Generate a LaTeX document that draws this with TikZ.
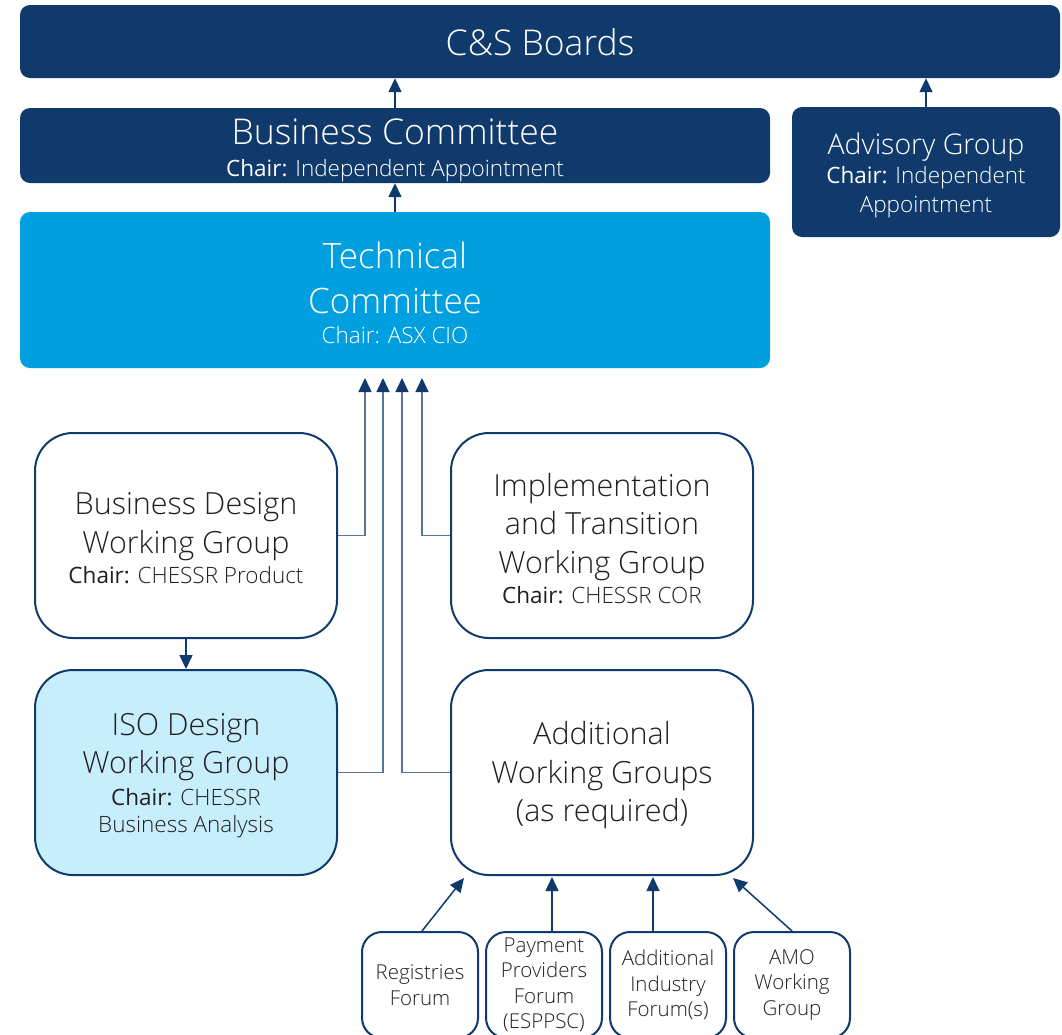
\documentclass[tikz,border=0pt]{standalone}
\usepackage{fontspec}
\setmainfont{Open Sans Light}[BoldFont=Open Sans]
\usetikzlibrary{arrows.meta,calc}
\definecolor{navy}{HTML}{0F3A6B}
\definecolor{skyblue}{HTML}{00A0E0}
\definecolor{paleblue}{HTML}{C6EEFD}
\definecolor{ink}{HTML}{231F20}
\newcommand\chairof{\textbf{Chair:}}
\newcommand\chairsize{\fontsize{22.5}{27}\selectfont}
\tikzset{
  darkbox/.style={fill=navy,text=white,rounded corners=10pt,inner sep=0pt,align=center},
  wgbox/.style={draw=navy,line width=2pt,fill=white,rounded corners=38pt,
    minimum width=302pt,minimum height=205pt,inner sep=0pt},
  wgtext/.style={text=ink,inner sep=0pt,align=center,yshift=-3pt,
    font=\fontsize{30.5}{38.5}\selectfont},
  forumbox/.style={draw=navy,line width=2pt,fill=white,text=ink,rounded corners=20pt,
    minimum width=116pt,minimum height=106pt,inner sep=0pt,align=center,
    font=\fontsize{20.5}{25.5}\selectfont},
  link/.style={draw=navy,line width=1.5pt,-{Triangle[length=14pt,width=13pt]}},
  feed/.style={draw=navy!70,line width=1.5pt,-{Triangle[length=14pt,width=13pt,color=navy]}},
}
\begin{document}
\begin{tikzpicture}[x=1pt,y=-1pt]
    \useasboundingbox (0,0) rectangle (1062,1034);
    \coordinate (in1) at (365,378);
    \coordinate (in2) at (383,378);
    \coordinate (in3) at (402,378);
    \coordinate (in4) at (422,378);
    \coordinate (regin) at (464,878);
    \coordinate (payin) at (552,877);
    \coordinate (indin) at (653,877);
    \coordinate (amoin) at (733,878);
    \node[darkbox,minimum width=1040pt,minimum height=73pt,
        label={[text=white,yshift=-1pt,font=\fontsize{35.5}{40}\selectfont]center:C\&S Boards}] (boards) at (540,41.5) {};
    \node[darkbox,minimum width=750pt,minimum height=75pt,
        label={[text=white,align=center,yshift=-5pt,font=\fontsize{35.5}{38}\selectfont]center:{Business Committee\\[-6pt] {\chairsize\chairof{} Independent Appointment}}}] (bizcom) at (395,145.5) {};
    \node[darkbox,minimum width=268pt,minimum height=130pt,
        label={[text=white,align=center,yshift=-3pt,font=\fontsize{28.5}{32}\selectfont]center:{Advisory Group\\[-3pt] {\chairsize\chairof{} Independent}\\[-3pt] {\chairsize Appointment}}}] (advisory) at (926,172) {};
    \node[darkbox,fill=skyblue,minimum width=750pt,minimum height=156pt,
        label={[text=white,align=center,yshift=-3pt,font=\fontsize{35}{45}\selectfont]center:{Technical\\ Committee\\[-15pt] {\chairsize Chair: ASX CIO}}}] (techcom) at (395,290) {};
    \node[wgbox,label={[wgtext]center:{Business Design\\ Working Group\\[-8pt] {\chairsize\chairof{} CHESSR Product}}}] (bdwg) at (186,535.5) {};
    \node[wgbox,label={[wgtext]center:{Implementation\\ and Transition\\ Working Group\\[-8pt] {\chairsize\chairof{} CHESSR COR}}}] (itwg) at (602,535.5) {};
    \node[wgbox,fill=paleblue,label={[wgtext]center:{ISO Design\\ Working Group\\[-7pt] {\chairsize\chairof{} CHESSR}\\[-11pt] {\chairsize Business Analysis}}}] (isowg) at (186,772.5) {};
    \node[wgbox,label={[wgtext]center:{Additional\\ Working Groups\\ (as required)}}] (addwg) at (602,772.5) {};
    \node[forumbox] (reg) at (420,985) {Registries\\ Forum};
    \node[forumbox] (pay) at (544,985) {Payment\\ Providers\\ Forum\\ (ESPPSC)};
    \node[forumbox] (ind) at (668,985) {Additional\\ Industry\\ Forum(s)};
    \node[forumbox] (amo) at (792,985) {AMO\\ Working\\ Group};
    \draw[link] (bizcom.north) -- (bizcom.north |- boards.south);
    \draw[link] (advisory.north) -- (advisory.north |- boards.south);
    \draw[link] (techcom.north) -- (bizcom.south);
    \draw[link] (bdwg.south) -- (isowg.north);
    \draw[feed] (bdwg.east) -| (in1);
    \draw[feed] (isowg.east) -| (in2);
    \draw[feed] (addwg.west) -| (in3);
    \draw[feed] (itwg.west) -| (in4);
    \draw[link] ($(reg.north)+(2,0)$) -- (regin);
    \draw[link] (payin |- pay.north) -- (payin);
    \draw[link] (indin |- ind.north) -- (indin);
    \draw[link] (amo.north) -- (amoin);
\end{tikzpicture}
\end{document}
